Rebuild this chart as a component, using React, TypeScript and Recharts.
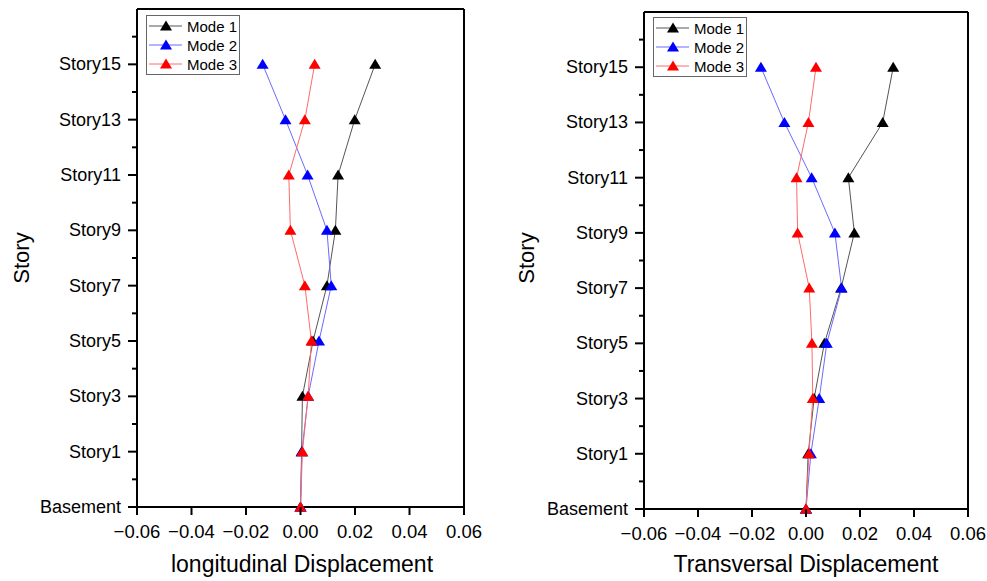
import { ScatterChart, Scatter, XAxis, YAxis } from 'recharts'

const stories = ['Basement', 'Story1', 'Story3', 'Story5', 'Story7', 'Story9', 'Story11', 'Story13', 'Story15']
const xTicks = [-0.06, -0.04, -0.02, 0, 0.02, 0.04, 0.06]

// longitudinal displacement per level, Basement -> Story15
const longMode1 = [0, 0.0004, 0.0007, 0.0046, 0.0097, 0.0128, 0.0138, 0.0199, 0.0274]
const longMode2 = [0, 0.0005, 0.0028, 0.0068, 0.0113, 0.0097, 0.0026, -0.0055, -0.0139]
const longMode3 = [0, 0.0007, 0.0028, 0.004, 0.0016, -0.0037, -0.0043, 0.0016, 0.0052]

// transversal displacement per level
const transMode1 = [0, 0.0008, 0.003, 0.0068, 0.013, 0.0179, 0.0157, 0.0284, 0.0323]
const transMode2 = [0, 0.0018, 0.0049, 0.0077, 0.0132, 0.0107, 0.0021, -0.008, -0.0167]
const transMode3 = [0, 0.0011, 0.0025, 0.0022, 0.0012, -0.0031, -0.0035, 0.0009, 0.0037]

const modes = [
  { name: 'Mode 1', fill: '#000000', line: '#555555' },
  { name: 'Mode 2', fill: '#0000ff', line: '#6a6aff' },
  { name: 'Mode 3', fill: '#ff0000', line: '#ff6a6a' },
]

const FONT = '"Liberation Sans", Arial, sans-serif'
const AXIS_W = 2
const yTicks = stories.flatMap((_, i) => (i < stories.length - 1 ? [i, i + 0.5] : [i]))
  .concat([stories.length - 0.5])

const fmt = (v: number) => {
  const s = Math.abs(v).toFixed(2)
  return v < -1e-9 ? '\u2212' + s : s
}

const Triangle = (props: any) => {
  const { cx, cy, fill } = props
  if (cx == null || cy == null) return null
  return <polygon points={`${cx},${cy - 5.5} ${cx - 6},${cy + 4.5} ${cx + 6},${cy + 4.5}`} fill={fill} />
}

const LeftTick = ({ x, y, payload }: any) => {
  const major = Number.isInteger(payload.value)
  return (
    <g>
      <line x1={x - (major ? 9 : 5)} x2={x} y1={y} y2={y} stroke="#000" strokeWidth={AXIS_W} />
      {major && (
        <text x={x - 16} y={y} textAnchor="end" dominantBaseline="central" fontSize={18} fill="#000" fontFamily={FONT}>
          {stories[payload.value]}
        </text>
      )}
    </g>
  )
}

const RightTick = ({ x, y, payload }: any) => {
  const major = Number.isInteger(payload.value)
  return <line x1={x - (major ? 9 : 5)} x2={x} y1={y} y2={y} stroke="#000" strokeWidth={AXIS_W} />
}

const BottomTick = ({ x, y, payload }: any) => (
  <g>
    <line x1={x} x2={x} y1={y} y2={y + 8} stroke="#000" strokeWidth={AXIS_W} />
    <text x={x} y={y + 24} textAnchor="middle" dominantBaseline="central" fontSize={18.5} fill="#000" fontFamily={FONT}>
      {fmt(payload.value)}
    </text>
  </g>
)

const TopTick = ({ x, y }: any) => <line x1={x} x2={x} y1={y} y2={y + 8} stroke="#000" strokeWidth={AXIS_W} />

function LegendBox({ left, top }: { left: number; top: number }) {
  return (
    <svg style={{ position: 'absolute', left, top }} width={95} height={61}>
      <rect x={0.5} y={0.5} width={93} height={59} fill="#fff" stroke="#666" strokeWidth={1} />
      {modes.map((m, i) => {
        const cy = 11 + i * 19
        return (
          <g key={m.name}>
            <line x1={3} x2={36} y1={cy} y2={cy} stroke={m.line} strokeWidth={1} />
            <Triangle cx={20} cy={cy} fill={m.fill} />
            <text x={41} y={cy} dominantBaseline="central" fontSize={15} fill="#000" fontFamily={FONT}>
              {m.name}
            </text>
          </g>
        )
      })}
    </svg>
  )
}

interface PanelProps {
  left: number
  width: number
  margin: { top: number; right: number; bottom: number; left: number }
  series: number[][]
  title: string
  titleX: number
  storyX: number
  legend: { left: number; top: number }
}

function Panel({ left, width, margin, series, title, titleX, storyX, legend }: PanelProps) {
  const axisLine = { stroke: '#000', strokeWidth: AXIS_W }
  return (
    <div style={{ position: 'absolute', left, top: 0, width, height: 581 }}>
      <ScatterChart width={width} height={581} margin={margin} style={{ overflow: 'visible' }}>
        <XAxis
          xAxisId="b"
          dataKey="x"
          type="number"
          domain={[-0.06, 0.06]}
          ticks={xTicks}
          interval={0}
          height={30}
          tickSize={0}
          tickMargin={0}
          tickLine={false}
          axisLine={axisLine}
          tick={<BottomTick />}
        />
        <XAxis
          xAxisId="t"
          orientation="top"
          type="number"
          domain={[-0.06, 0.06]}
          ticks={xTicks}
          interval={0}
          height={1}
          tickSize={0}
          tickMargin={0}
          tickLine={false}
          axisLine={axisLine}
          tick={<TopTick />}
        />
        <YAxis
          yAxisId="l"
          dataKey="y"
          type="number"
          domain={[0, 9]}
          ticks={yTicks}
          interval={0}
          width={80}
          tickSize={0}
          tickMargin={0}
          tickLine={false}
          axisLine={axisLine}
          tick={<LeftTick />}
        />
        <YAxis
          yAxisId="r"
          orientation="right"
          type="number"
          domain={[0, 9]}
          ticks={yTicks}
          interval={0}
          width={10}
          tickSize={0}
          tickMargin={0}
          tickLine={false}
          axisLine={axisLine}
          tick={<RightTick />}
        />
        {series.map((vals, i) => (
          <Scatter
            key={modes[i].name}
            xAxisId="b"
            yAxisId="l"
            name={modes[i].name}
            data={vals.map((v, lvl) => ({ x: v, y: lvl }))}
            line={{ stroke: modes[i].line, strokeWidth: 1 }}
            shape={<Triangle fill={modes[i].fill} />}
            isAnimationActive={false}
          />
        ))}
      </ScatterChart>
      <div
        style={{
          position: 'absolute',
          left: titleX - 200,
          width: 400,
          top: 550,
          textAlign: 'center',
          fontFamily: FONT,
          fontSize: 23,
          lineHeight: '28px',
          color: '#000',
        }}
      >
        {title}
      </div>
      <div
        style={{
          position: 'absolute',
          left: storyX - 50,
          top: 244,
          width: 100,
          height: 28,
          textAlign: 'center',
          fontFamily: FONT,
          fontSize: 22,
          lineHeight: '28px',
          color: '#000',
          transform: 'rotate(-90deg)',
        }}
      >
        Story
      </div>
      <LegendBox left={legend.left} top={legend.top} />
    </div>
  )
}

export default function App() {
  return (
    <div style={{ position: 'absolute', left: 0, top: 0, width: 987, height: 581, background: '#fff' }}>
      <Panel
        left={0}
        width={496}
        margin={{ top: 8, right: 22, bottom: 44, left: 57 }}
        series={[longMode1, longMode2, longMode3]}
        title="longitudinal Displacement"
        titleX={302}
        storyX={22}
        legend={{ left: 146, top: 15 }}
      />
      <Panel
        left={500}
        width={487}
        margin={{ top: 11, right: 9, bottom: 42, left: 64 }}
        series={[transMode1, transMode2, transMode3]}
        title="Transversal Displacement"
        titleX={306}
        storyX={27}
        legend={{ left: 153, top: 17 }}
      />
    </div>
  )
}
